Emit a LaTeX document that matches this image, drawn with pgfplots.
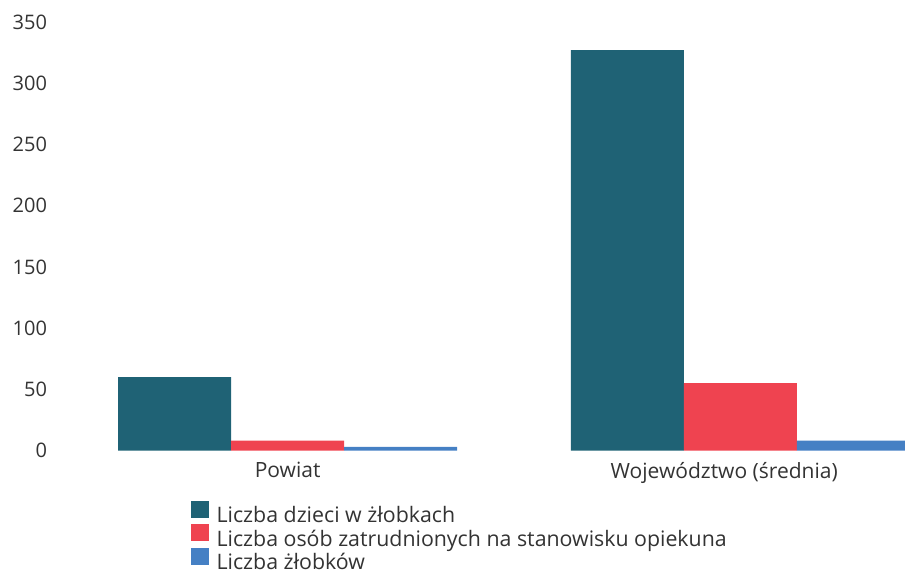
\documentclass[border=0pt]{standalone}
\usepackage{fontspec}
\setmainfont{Open Sans}
\usepackage{pgfplots}
\pgfplotsset{compat=1.18}
\definecolor{tealc}{HTML}{1F6275}
\definecolor{redc}{HTML}{EF4350}
\definecolor{bluec}{HTML}{4580C4}
\definecolor{txt}{HTML}{333333}

\begin{document}
\begin{tikzpicture}
\useasboundingbox (-41.25pt,-94.9pt) rectangle (637.5pt,337.9pt);
\begin{axis}[
  at={(0,0)}, anchor=south west,
  scale only axis, width=637.5pt, height=321.4pt,
  ybar=0pt, bar width=84.75pt,
  xmin=-0.514, xmax=1.364,
  ymin=0, ymax=350,
  ytick={0,50,...,350},
  xtick={0,1},
  xticklabels={Powiat, {Województwo (średnia)\hspace*{24pt}}},
  axis line style={draw=none},
  major tick length=0pt,
  tick style={draw=none},
  /pgf/number format/assume math mode=true,
  tick label style={font=\fontsize{15}{18}\selectfont, text=txt},
  x tick label style={font=\fontsize{15.75}{18}\selectfont, yshift=-5.5pt},
  yticklabel style={xshift=-2.5pt},
  legend cell align=left,
  legend style={draw=none, fill=none, at={(0.1553,-0.11)}, anchor=north west,
    font=\fontsize{16}{18}\selectfont, text=txt, row sep=-2.5pt},
  legend image code/.code={\path[#1] (0pt,-1.5pt) rectangle (13.5pt,11.25pt); \path (17pt,0pt);},
]
\addplot[draw=none, fill=tealc] coordinates {(0,60) (1,327)};
\addplot[draw=none, fill=redc] coordinates {(0,8) (1,55)};
\addplot[draw=none, fill=bluec] coordinates {(0,3) (1,8)};
\legend{Liczba dzieci w żłobkach, Liczba osób zatrudnionych na stanowisku opiekuna, Liczba żłobków}
\end{axis}
\end{tikzpicture}
\end{document}
